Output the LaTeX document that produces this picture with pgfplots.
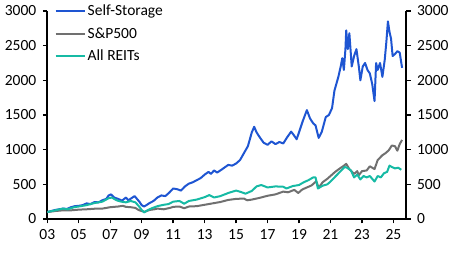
\documentclass[border=0pt]{standalone}
\usepackage{pgfplots}
\pgfplotsset{compat=1.18}
\usepackage{fontspec}
\setmainfont{Carlito}
\definecolor{cBlue}{RGB}{30,85,210}
\definecolor{cGray}{RGB}{112,112,112}
\definecolor{cTeal}{RGB}{22,186,164}
\begin{document}
\begin{tikzpicture}[x=1pt,y=1pt]
\useasboundingbox (-47.3pt,-34pt) rectangle (409.7pt,219pt);
\pgfplotsset{
  common/.style={
    scale only axis, width=358.7pt, height=208pt,
    xmin=2003, xmax=2025.8, ymin=0, ymax=3000,
    font=\fontsize{15.5}{18}\selectfont,
    tick align=outside, major tick length=4.5pt,
    every tick/.style={black, line width=1.4pt},
    axis line style={black, line width=1.8pt},
    /pgf/number format/assume math mode=true,
    /pgf/number format/1000 sep={},
    ytick={0,500,...,3000},
    scaled y ticks=false,
  }
}
\begin{axis}[common,
  axis x line*=bottom, axis y line*=left,
  xtick={2003,2005,...,2025},
  xticklabels={03,05,07,09,11,13,15,17,19,21,23,25},
  xticklabel style={yshift=-2pt},
  yticklabel style={xshift=-3pt},
  legend style={at={(rel axis cs:0.02,1.04)}, anchor=north west, draw=none, fill=none,
    font=\fontsize{15.5}{18}\selectfont, row sep=6.5pt, inner sep=0pt,
    legend cell align=left},
  legend image code/.code={\draw[#1, line width=2pt] (0pt,0pt) -- (29pt,0pt);},
  every axis plot/.append style={line width=2pt, line join=round},
]
\addplot[cBlue, line width=2pt] coordinates {
(2003.00,100)(2003.25,115)(2003.50,130)(2003.75,140)(2004.00,150)(2004.25,145)(2004.50,170)(2004.75,185)
(2005.00,190)(2005.25,200)(2005.50,225)(2005.75,215)(2006.00,245)(2006.25,240)(2006.50,270)(2006.75,290)
(2006.90,340)(2007.05,355)(2007.25,310)(2007.50,290)(2007.75,265)(2008.00,310)(2008.15,270)(2008.35,300)
(2008.55,330)(2008.70,290)(2008.85,250)(2009.00,200)(2009.15,180)(2009.30,200)(2009.50,230)(2009.75,260)
(2010.00,310)(2010.25,340)(2010.50,330)(2010.75,380)(2011.00,440)(2011.25,430)(2011.50,410)(2011.75,470)
(2012.00,510)(2012.25,530)(2012.50,560)(2012.75,590)(2013.00,640)(2013.25,680)(2013.40,650)(2013.60,700)
(2013.80,670)(2014.00,700)(2014.25,740)(2014.50,780)(2014.75,770)(2015.00,800)(2015.25,850)(2015.50,950)
(2015.75,1050)(2016.00,1250)(2016.15,1330)(2016.30,1250)(2016.50,1180)(2016.75,1100)(2017.00,1070)
(2017.25,1120)(2017.50,1080)(2017.75,1110)(2018.00,1090)(2018.25,1180)(2018.50,1260)(2018.70,1200)
(2018.85,1150)(2019.00,1250)(2019.25,1420)(2019.50,1570)(2019.70,1450)(2019.90,1380)(2020.05,1350)
(2020.25,1170)(2020.45,1260)(2020.70,1470)(2020.90,1500)(2021.10,1600)(2021.25,1850)(2021.50,2050)
(2021.65,2200)(2021.75,2320)(2021.85,2150)(2021.95,2450)(2022.00,2720)(2022.10,2450)(2022.20,2680)
(2022.35,2200)(2022.50,2350)(2022.65,2450)(2022.80,2200)(2022.90,2000)(2023.05,2200)(2023.20,2250)
(2023.35,2150)(2023.50,2100)(2023.65,1950)(2023.80,1700)(2023.90,2250)(2024.00,2150)(2024.15,2250)
(2024.30,2050)(2024.45,2300)(2024.55,2550)(2024.65,2850)(2024.75,2700)(2024.85,2600)(2024.95,2350)
(2025.10,2380)(2025.25,2420)(2025.40,2400)(2025.55,2180)
};
\addlegendentry{Self-Storage}
\addplot[cGray, line width=2pt] coordinates {
(2003.0,100)(2003.5,115)(2004.0,125)(2004.5,125)(2005.0,135)(2005.5,140)(2006.0,148)(2006.5,150)
(2007.0,170)(2007.5,180)(2007.8,190)(2008.0,175)(2008.3,170)(2008.6,160)(2008.8,130)(2009.0,115)
(2009.2,105)(2009.5,130)(2009.8,140)(2010.0,150)(2010.4,140)(2010.8,160)(2011.0,175)(2011.4,180)
(2011.7,155)(2012.0,180)(2012.5,185)(2013.0,205)(2013.5,225)(2014.0,245)(2014.5,275)(2015.0,290)
(2015.5,295)(2015.7,270)(2016.0,280)(2016.5,305)(2017.0,335)(2017.5,355)(2018.0,395)(2018.3,385)
(2018.7,420)(2018.95,375)(2019.2,425)(2019.5,455)(2019.8,485)(2020.1,545)(2020.25,450)(2020.5,530)
(2020.8,580)(2021.0,620)(2021.3,680)(2021.6,730)(2021.8,760)(2022.0,795)(2022.2,720)(2022.5,650)
(2022.7,690)(2022.8,630)(2023.0,690)(2023.3,700)(2023.5,760)(2023.8,720)(2024.0,850)(2024.3,920)
(2024.5,950)(2024.7,990)(2024.9,1060)(2025.1,1050)(2025.25,985)(2025.4,1080)(2025.55,1140)
};
\addlegendentry{S\&P500}
\addplot[cTeal, line width=2pt] coordinates {
(2003.0,100)(2003.5,125)(2004.0,150)(2004.3,140)(2004.7,170)(2005.0,180)(2005.5,200)(2006.0,230)
(2006.5,250)(2006.9,300)(2007.1,310)(2007.4,270)(2007.7,250)(2008.0,240)(2008.3,260)(2008.6,240)
(2008.8,190)(2009.0,130)(2009.15,95)(2009.4,130)(2009.7,160)(2010.0,185)(2010.4,205)(2010.7,215)
(2011.0,250)(2011.4,260)(2011.7,220)(2012.0,260)(2012.5,280)(2013.0,315)(2013.3,345)(2013.6,310)
(2014.0,330)(2014.5,375)(2015.0,410)(2015.3,390)(2015.6,365)(2016.0,405)(2016.3,470)(2016.6,490)
(2017.0,455)(2017.5,470)(2018.0,465)(2018.2,440)(2018.6,475)(2019.0,490)(2019.3,530)(2019.6,560)
(2019.9,600)(2020.05,600)(2020.2,440)(2020.5,480)(2020.8,500)(2021.0,540)(2021.3,610)(2021.6,680)
(2021.9,750)(2022.05,740)(2022.3,700)(2022.5,600)(2022.7,640)(2022.9,570)(2023.1,620)(2023.3,600)
(2023.5,620)(2023.8,540)(2024.0,620)(2024.2,600)(2024.4,660)(2024.6,680)(2024.75,770)(2024.9,750)
(2025.1,730)(2025.3,740)(2025.5,710)
};
\addlegendentry{All REITs}
\end{axis}
\begin{axis}[common,
  axis y line*=right, axis x line=none,
  yticklabel style={xshift=3pt},
]
\end{axis}
\end{tikzpicture}
\end{document}
